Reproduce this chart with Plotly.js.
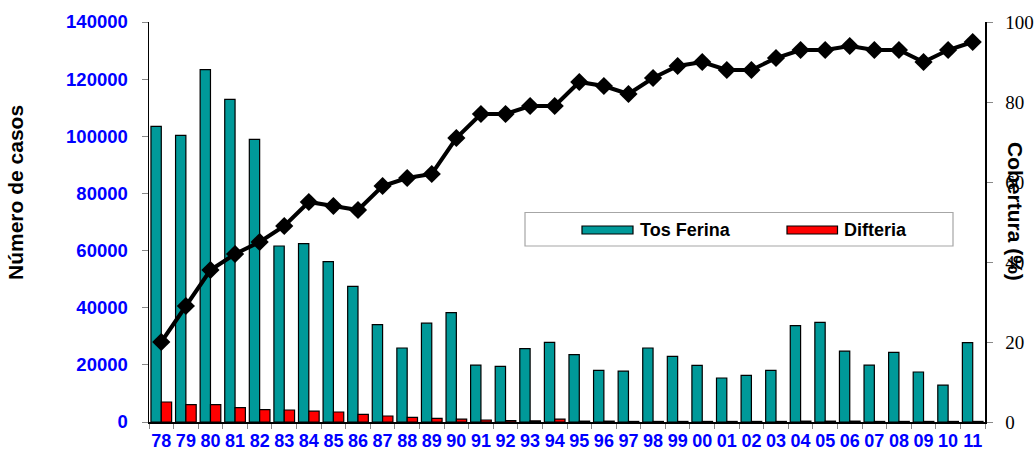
<!DOCTYPE html>
<html>
<head>
<meta charset="utf-8">
<script src="https://cdn.plot.ly/plotly-3.0.1.min.js"></script>
<style>html,body{margin:0;padding:0;background:#fff;}#chart{width:1035px;height:452px;}</style>
</head>
<body>
<div id="chart"></div>
<script>
const years = ['78','79','80','81','82','83','84','85','86','87','88','89','90','91','92','93','94','95','96','97','98','99','00','01','02','03','04','05','06','07','08','09','10','11'];
const tosFerina = [103500,100300,123300,112900,98900,61600,62400,56100,47500,34100,25900,34600,38300,19900,19500,25700,27900,23600,18100,17800,25900,23000,19800,15400,16300,18100,33700,34900,24800,19900,24400,17500,12900,27800];
const difteria = [7000,6100,6100,5000,4300,4200,3800,3500,2700,2100,1600,1300,1000,700,500,400,1000,300,300,200,200,200,200,200,200,200,300,300,300,200,200,200,200,200];
const cobertura = [20,29,38,42,45,49,55,54,53,59,61,62,71,77,77,79,79,85,84,82,86,89,90,88,88,91,93,93,94,93,93,90,93,95];
const seriesNames = ['Tos Ferina','Difteria','Cobertura'];
const axisTitles = ['Número de casos','Cobertura (%)'];

const sans = 'Liberation Sans, Arial, sans-serif';
const serif = 'Liberation Serif, Times New Roman, serif';
const teal = '#009999';
const red = '#ff0000';

const traces = [
  {type:'bar', name:seriesNames[0], x:years, y:tosFerina, marker:{color:teal, line:{color:'#000', width:1.2}}, yaxis:'y', hoverinfo:'x+y'},
  {type:'bar', name:seriesNames[1], x:years, y:difteria, marker:{color:red, line:{color:'#000', width:1.2}}, yaxis:'y', hoverinfo:'x+y'},
  {type:'scatter', mode:'lines+markers', name:seriesNames[2], x:years, y:cobertura, yaxis:'y2',
   line:{color:'#000', width:4}, marker:{symbol:'diamond', size:14, color:'#000'}}
];

// legend / title geometry helpers (paper coordinates)
const L = 149, W = 836, T = 22, H = 400;
const px = v => (v - L) / W;
const py = v => (T + H - v) / H;

const layout = {
  width:1035, height:452,
  margin:{l:149, r:50, t:22, b:30, pad:0},
  paper_bgcolor:'#fff', plot_bgcolor:'#fff',
  showlegend:false,
  barmode:'group', bargap:0.16, bargroupgap:0,
  font:{family:sans, color:'#000'},
  xaxis:{type:'category', range:[-0.5, years.length - 0.5], autorange:false, showgrid:false, zeroline:false, showline:true, linecolor:'#000', linewidth:1.5,
    ticks:'outside', tickson:'boundaries', ticklen:5, tickcolor:'#888', tickwidth:1, tickangle:0,
    tickfont:{family:sans, size:18, color:'#0000ff', weight:'bold'}, ticklabelstandoff:2},
  yaxis:{range:[0,140000], dtick:20000, showgrid:false, zeroline:false, showline:true, linecolor:'#000', linewidth:1.5,
    ticks:'outside', ticklen:6, tickcolor:'#888', tickwidth:1, tickformat:'d',
    tickfont:{family:sans, size:18.5, color:'#0000ff', weight:'bold'}, ticklabelstandoff:10},
  yaxis2:{overlaying:'y', side:'right', range:[0,100], dtick:20, showgrid:false, zeroline:false, showline:true,
    linecolor:'#000', linewidth:1.5, ticks:'outside', ticklen:6, tickcolor:'#888', tickwidth:1,
    tickfont:{family:serif, size:19, color:'#000'}, ticklabelstandoff:9},
  shapes:[
    {type:'rect', xref:'paper', yref:'paper', x0:px(525), x1:px(953), y0:py(246), y1:py(212.5), line:{color:'#a6a6a6', width:1.2}, fillcolor:'#fff', layer:'above'},
    {type:'rect', xref:'paper', yref:'paper', x0:px(582), x1:px(633), y0:py(234), y1:py(226), line:{color:'#000', width:1.2}, fillcolor:teal, layer:'above'},
    {type:'rect', xref:'paper', yref:'paper', x0:px(787), x1:px(837.5), y0:py(234), y1:py(226), line:{color:'#000', width:1.2}, fillcolor:red, layer:'above'}
  ],
  annotations:[
    {xref:'paper', yref:'paper', x:px(638), y:py(229.5), xanchor:'left', yanchor:'middle', showarrow:false, text:seriesNames[0], font:{family:sans, size:18, color:'#000', weight:'bold'}},
    {xref:'paper', yref:'paper', x:px(842), y:py(229.5), xanchor:'left', yanchor:'middle', showarrow:false, text:seriesNames[1], font:{family:sans, size:18, color:'#000', weight:'bold'}},
    {xref:'paper', yref:'paper', x:px(15), y:py(193), xanchor:'center', yanchor:'middle', showarrow:false, textangle:-90, text:axisTitles[0], font:{family:sans, size:21, color:'#000', weight:'bold'}},
    {xref:'paper', yref:'paper', x:px(1016), y:py(211), xanchor:'center', yanchor:'middle', showarrow:false, textangle:90, text:axisTitles[1], font:{family:sans, size:21, color:'#000', weight:'bold'}}
  ]
};

Plotly.newPlot('chart', traces, layout, {displayModeBar:false, staticPlot:true});
</script>
</body>
</html>
